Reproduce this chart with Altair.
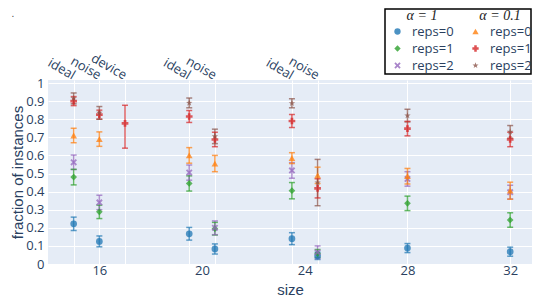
import altair as alt
import pandas as pd

# ---------------- data ----------------
positions = [15, 16, 17, 19.5, 20.5, 23.5, 24.5, 28, 32]
top_labels = ["ideal", "noise", "device", "ideal", "noise", "ideal", "noise", "", ""]
size_ticks = [16, 20, 24, 28, 32]
y_ticks = [0, 0.1, 0.2, 0.3, 0.4, 0.5, 0.6, 0.7, 0.8, 0.9, 1.0]
reps_labels = ["reps=0", "reps=1", "reps=2"]

# alpha = 1
a1_r0 = [0.222, 0.125, None, 0.167, 0.083, 0.140, 0.045, 0.088, 0.068]
a1_r0_err = [0.037, 0.030, None, 0.035, 0.028, 0.033, 0.020, 0.025, 0.025]
a1_r1 = [0.480, 0.288, None, 0.445, 0.195, 0.405, 0.058, 0.335, 0.243]
a1_r1_err = [0.043, 0.037, None, 0.042, 0.035, 0.045, 0.022, 0.040, 0.040]
a1_r2 = [0.562, 0.340, None, 0.505, 0.200, 0.517, 0.065, 0.470, 0.397]
a1_r2_err = [0.040, 0.040, None, 0.042, 0.038, 0.043, 0.035, 0.040, 0.038]

# alpha = 0.1
a01_r0 = [0.710, 0.690, None, 0.600, 0.555, 0.585, 0.490, 0.485, 0.405]
a01_r0_err = [0.040, 0.040, None, 0.043, 0.045, 0.030, 0.045, 0.043, 0.047]
a01_r1 = [0.900, 0.825, 0.777, 0.815, 0.688, 0.790, 0.418, 0.748, 0.688]
a01_r1_err_plus = [0.025, 0.025, 0.100, 0.033, 0.040, 0.036, 0.053, 0.040, 0.040]
a01_r1_err_minus = [0.025, 0.025, 0.137, 0.033, 0.040, 0.036, 0.053, 0.040, 0.040]
a01_r2 = [0.915, 0.835, None, 0.890, 0.705, 0.888, 0.450, 0.820, 0.730]
a01_r2_err = [0.030, 0.035, None, 0.027, 0.040, 0.025, 0.128, 0.035, 0.035]

colors_a1 = ["#1f77b4", "#2ca02c", "#9467bd"]
colors_a01 = ["#ff7f0e", "#d62728", "#8c564b"]

X_SHAPE = "M-1,-0.6L-0.6,-1L0,-0.4L0.6,-1L1,-0.6L0.4,0L1,0.6L0.6,1L0,0.4L-0.6,1L-1,0.6L-0.4,0Z"
STAR_SHAPE = ("M0,-1L0.235,-0.324L0.951,-0.309L0.380,0.124L0.588,0.809L0,0.4"
              "L-0.588,0.809L-0.380,0.124L-0.951,-0.309L-0.235,-0.324Z")
shapes_a1 = ["circle", "diamond", X_SHAPE]
shapes_a01 = ["triangle-up", "cross", STAR_SHAPE]


def rows(rep, vals, err_plus, err_minus=None):
    if err_minus is None:
        err_minus = err_plus
    out = []
    for p, v, ep, em in zip(positions, vals, err_plus, err_minus):
        if v is None:
            continue
        out.append(dict(pos=p, series=rep, val=v, lo=v - em, hi=v + ep))
    return out


df_a1 = pd.DataFrame(rows("reps=0", a1_r0, a1_r0_err)
                     + rows("reps=1", a1_r1, a1_r1_err)
                     + rows("reps=2", a1_r2, a1_r2_err))
df_a01 = pd.DataFrame(rows("reps=0", a01_r0, a01_r0_err)
                      + rows("reps=1", a01_r1, a01_r1_err_plus, a01_r1_err_minus)
                      + rows("reps=2", a01_r2, a01_r2_err))
df_all = pd.concat([df_a1, df_a01], ignore_index=True)

W, H = 484, 184
XDOM = [14, 32.85]
YDOM = [0, 1.0166]
FONT = "Open Sans"
TFONT = "Liberation Sans"
TXT = "#2a3f5f"


def xenc(axis=None):
    return alt.X("pos:Q", scale=alt.Scale(domain=XDOM, nice=False, zero=False), axis=axis)


def yenc(field="val", axis=None):
    return alt.Y(field + ":Q", scale=alt.Scale(domain=YDOM, nice=False, zero=False), axis=axis)


# ---------------- axes layers ----------------
axis_bottom_left = alt.Chart(df_all).mark_point(opacity=0).encode(
    x=xenc(alt.Axis(values=size_ticks, format="d", grid=False, title="size",
                    labelFontSize=13, labelPadding=0, titleFont=TFONT, titleFontSize=15,
                    titleFontWeight="normal", titleY=18, titleBaseline="top")),
    y=yenc("val", alt.Axis(values=y_ticks, format=".1~f", grid=True, title="fraction of instances",
                           labelFontSize=13, labelPadding=4, titleFont=TFONT, titleFontSize=15,
                           titleFontWeight="normal", titleX=-23, titleY=H / 2,
                           titleBaseline="bottom")),
)

pos_js = "[" + ",".join(str(p) for p in positions) + "]"
lab_js = "[" + ",".join("'" + s + "'" for s in top_labels) + "]"
top_expr = f"{lab_js}[indexof({pos_js}, datum.value)]"

axis_top = alt.Chart(df_all).mark_point(opacity=0).encode(
    x=xenc(alt.Axis(orient="top", values=positions, labelExpr=top_expr, grid=True,
                    labelAngle=30, labelAlign="right", labelBaseline="middle",
                    labelFontSize=13, labelPadding=4, title=None, labelOverlap=False)),
    y=yenc("val", None),
)


# ---------------- series layers ----------------
def legend(title, lx):
    return alt.Legend(title=title, orient="none", legendX=lx, legendY=-71,
                      titleAnchor="middle", titleFont="Liberation Serif", titleFontStyle="italic",
                      titleFontSize=14, titleFontWeight="normal", titleColor="#222222",
                      titlePadding=2, labelFont=FONT, labelFontSize=13, labelColor=TXT,
                      symbolSize=40, symbolOpacity=0.8, rowPadding=3, padding=0,
                      labelOffset=8, symbolStrokeWidth=0)


def series_layer(df, title, colors, shapes, lx):
    lg = legend(title, lx)
    col = alt.Color("series:N", scale=alt.Scale(domain=reps_labels, range=colors), legend=lg)
    shp = alt.Shape("series:N", scale=alt.Scale(domain=reps_labels, range=shapes), legend=lg)
    base = alt.Chart(df)
    bars = base.mark_rule(strokeWidth=1.5, opacity=0.7).encode(
        x=xenc(), y=yenc("lo"), y2="hi:Q", color=col)
    cap_lo = base.mark_tick(orient="horizontal", size=6, thickness=1.5, opacity=0.7).encode(
        x=xenc(), y=yenc("lo"), color=col)
    cap_hi = base.mark_tick(orient="horizontal", size=6, thickness=1.5, opacity=0.7).encode(
        x=xenc(), y=yenc("hi"), color=col)
    pts = base.mark_point(filled=True, size=45, opacity=0.75).encode(
        x=xenc(), y=yenc("val"), color=col, shape=shp)
    return alt.layer(bars, cap_lo, cap_hi, pts)


layer_a1 = series_layer(df_a1, "α = 1", colors_a1, shapes_a1, 343)
layer_a01 = series_layer(df_a01, "α = 0.1", colors_a01, shapes_a01, 421)

# legend frame and stray dot
frame = alt.Chart(pd.DataFrame({"k": [0]})).mark_rect(
    fill="white", stroke="black", strokeWidth=1.5).encode(
    x=alt.value(337), x2=alt.value(W - 1), y=alt.value(-71), y2=alt.value(-6))
dot = alt.Chart(pd.DataFrame({"k": ["."]})).mark_text(
    fontSize=10, color="#444444", align="center", baseline="middle").encode(
    text="k:N", x=alt.value(-35), y=alt.value(-66))

chart = alt.layer(frame, axis_bottom_left, axis_top, layer_a1, layer_a01, dot).resolve_scale(
    color="independent", shape="independent"
).resolve_axis(x="independent", y="independent").properties(
    width=W, height=H,
    autosize=alt.AutoSizeParams(type="none"),
    padding={"left": 40, "top": 72, "right": 0, "bottom": 35},
).configure_view(fill="#E5ECF6", stroke=None).configure_axis(
    labelFont=FONT, labelColor=TXT, titleFont=FONT, titleColor=TXT,
    domain=False, ticks=False, gridColor="white", gridWidth=1,
)

chart.save("out.html", embed_options={"renderer": "svg", "actions": False})
